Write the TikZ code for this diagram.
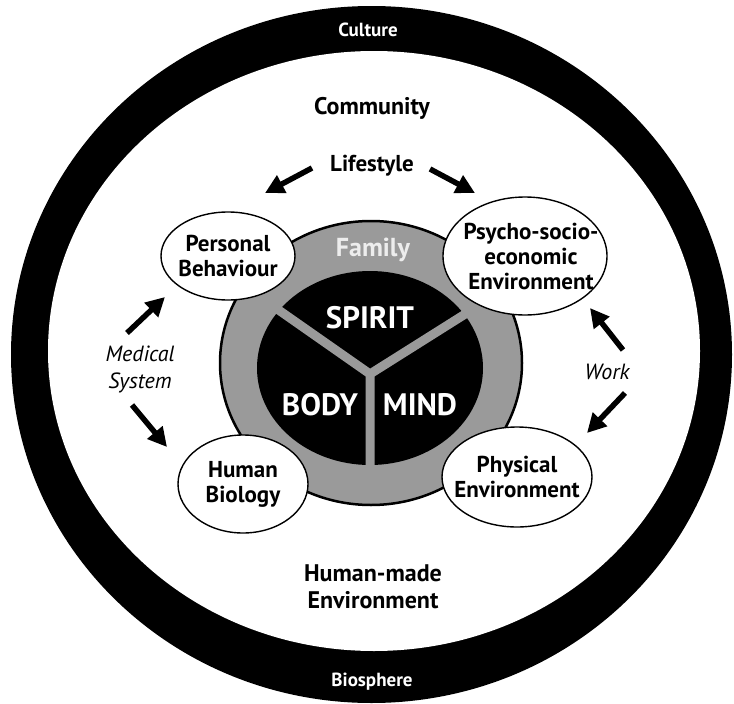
\documentclass[tikz,border=0pt]{standalone}
\usepackage{fontspec}
\setmainfont{PT Sans}
\usetikzlibrary{positioning,arrows.meta,shapes.geometric}
\definecolor{famgray}{HTML}{9A9A9A}
\definecolor{famlight}{HTML}{EDEDED}

\begin{document}
\begin{tikzpicture}[
  x=1pt, y=-1pt,
  ring/.style   ={font=\fontsize{19}{21}\selectfont\bfseries, text=white, inner sep=0pt},
  zone/.style   ={font=\fontsize{24}{27}\selectfont\bfseries, align=center, inner sep=0pt},
  via/.style    ={font=\fontsize{22}{27}\selectfont\itshape, align=center, inner sep=0pt},
  core/.style   ={font=\fontsize{31}{33}\selectfont\bfseries, text=white, inner sep=0pt},
  bubble/.style ={draw, ellipse, fill=white, line width=1.4pt, inner sep=0pt},
  btext/.style  ={font=\fontsize{23}{25}\selectfont\bfseries, align=center, inner sep=0pt},
  fat/.style    ={-{Triangle[length=19pt, width=19pt]}, line width=5.5pt}
]
\useasboundingbox (0,0) rectangle (734,704);

% --- outer ring: culture / biosphere ---
\fill[black] (371.5,354.5) ellipse [x radius=360.5pt, y radius=348.5pt];
\fill[white] (374,351) ellipse [x radius=326pt, y radius=300pt];

% --- family ring and the three parts of the self ---
\filldraw[fill=famgray, line width=2.5pt] (371,363) ellipse [x radius=151pt, y radius=142pt];
\fill[black] (370,368) ellipse [x radius=113pt, y radius=97pt];
\coordinate (hub) at (370,374);
\draw[famgray, line width=9pt] (270,304) -- (hub) -- (470,311)
                               (hub) -- (370,472);

\node[ring]                       (culture)   at (368,30)  {Culture};
\node[ring]                       (bio)       at (372,682) {Biosphere};
\node[zone]                       (community) at (372,108) {Community};
\node[zone, font=\fontsize{23}{25}\selectfont\bfseries]
                                  (life)      at (372,166) {Lifestyle};
\node[zone]                       (made)      at (373,587) {Human-made\\Environment};
\node[core, text=famlight, font=\fontsize{26}{28}\selectfont\bfseries]
                                  (family)    at (373,250) {Family};
\node[core]                       (spirit)    at (370,318) {SPIRIT};
\node[core]                       (body)      at (320,405) {BODY};
\node[core]                       (mind)      at (420,405) {MIND};

% --- determinants ---
\node[bubble, minimum width=134pt, minimum height=88pt]  (pb)  at (228,256) {};
\node[btext]                          (pb-t)  at (pb)  {Personal\\Behaviour};
\node[bubble, minimum width=164pt, minimum height=118pt] (pse) at (525,256) {};
\node[btext]                          (pse-t) at ([xshift=6pt]pse.center) {Psycho-socio-\\economic\\Environment};
\node[bubble, minimum width=130pt, minimum height=98pt]  (hb)  at (243,484) {};
\node[btext]                          (hb-t)  at (hb)  {Human\\Biology};
\node[bubble, minimum width=150pt, minimum height=100pt] (pe)  at (517,477) {};
\node[btext]                          (pe-t)  at (pe)  {Physical\\Environment};

% --- links between determinants ---
\node[via] (med)  at (140,369) {Medical\\System};
\node[via] (work) at (607,372) {Work};

\coordinate (ls-l)  at (312,168);  \coordinate (ls-l-tip)  at (265,193);
\coordinate (ls-r)  at (430,169);  \coordinate (ls-r-tip)  at (475,193);
\coordinate (med-u) at (127,333);  \coordinate (med-u-tip) at (165,297);
\coordinate (med-d) at (132,405);  \coordinate (med-d-tip) at (167,447);
\coordinate (wk-u)  at (623,350);  \coordinate (wk-u-tip)  at (590,308);
\coordinate (wk-d)  at (625,393);  \coordinate (wk-d-tip)  at (587,433);

\draw[fat] (ls-l)  -- (ls-l-tip);
\draw[fat] (ls-r)  -- (ls-r-tip);
\draw[fat] (med-u) -- (med-u-tip);
\draw[fat] (med-d) -- (med-d-tip);
\draw[fat] (wk-u)  -- (wk-u-tip);
\draw[fat] (wk-d)  -- (wk-d-tip);

\end{tikzpicture}
\end{document}
